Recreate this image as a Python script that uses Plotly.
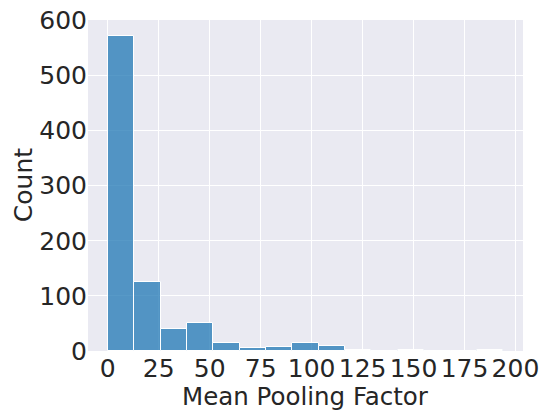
import numpy as np
import plotly.graph_objects as go

# Histogram data (counts per bin), bins spanning 0..194
bin_start = 0.0
bin_end = 194.0
counts = [572, 125, 40, 50, 14, 5, 7, 15, 9, 1, 0, 1, 0, 0, 1]
x_ticks = [0, 25, 50, 75, 100, 125, 150, 175, 200]
y_ticks = [0, 100, 200, 300, 400, 500, 600]
x_title = "Mean Pooling Factor"
y_title = "Count"

edges = np.linspace(bin_start, bin_end, len(counts) + 1)
centers = (edges[:-1] + edges[1:]) / 2
widths = np.diff(edges)

W, H = 543, 411
ml, mr, mt, mb = 88, 20, 20, 59.5
pw, ph = W - ml - mr, H - mt - mb

fig = go.Figure()
fig.add_trace(go.Bar(
    x=centers, y=counts, width=widths,
    marker=dict(color="rgba(31,119,180,0.75)", line=dict(color="white", width=1)),
    hoverinfo="x+y",
))

span = bin_end - bin_start
fig.update_layout(
    width=W, height=H,
    margin=dict(l=ml, r=mr, t=mt, b=mb, autoexpand=False),
    paper_bgcolor="white",
    plot_bgcolor="#EAEAF2",
    font=dict(family="DejaVu Sans", color="#262626", size=25),
    showlegend=False,
    bargap=0,
)
fig.update_xaxes(
    range=[bin_start - 0.05 * span, bin_end + 0.05 * span],
    tickvals=x_ticks, ticktext=[str(v) for v in x_ticks],
    showgrid=True, gridcolor="white", gridwidth=1.2, zeroline=False,
    showline=False, ticks="",
    tickfont=dict(size=25, color="#262626"), automargin=False,
)
fig.update_yaxes(
    range=[0, max(counts) * 1.05],
    tickvals=y_ticks, ticktext=[str(v) for v in y_ticks],
    showgrid=True, gridcolor="white", gridwidth=1.2, zeroline=False,
    showline=False, ticks="",
    tickfont=dict(size=25, color="#262626"), automargin=False,
)
fig.add_annotation(
    text=x_title, xref="paper", yref="paper",
    x=0.5, y=-(397 - (H - mb)) / ph, xanchor="center", yanchor="middle",
    showarrow=False, font=dict(size=24.5, color="#262626"),
)
fig.add_annotation(
    text=y_title, xref="paper", yref="paper",
    x=(23.7 - ml) / pw, y=0.5, xanchor="center", yanchor="middle", textangle=-90,
    showarrow=False, font=dict(size=25, color="#262626"),
)

fig.write_html("out.html")
